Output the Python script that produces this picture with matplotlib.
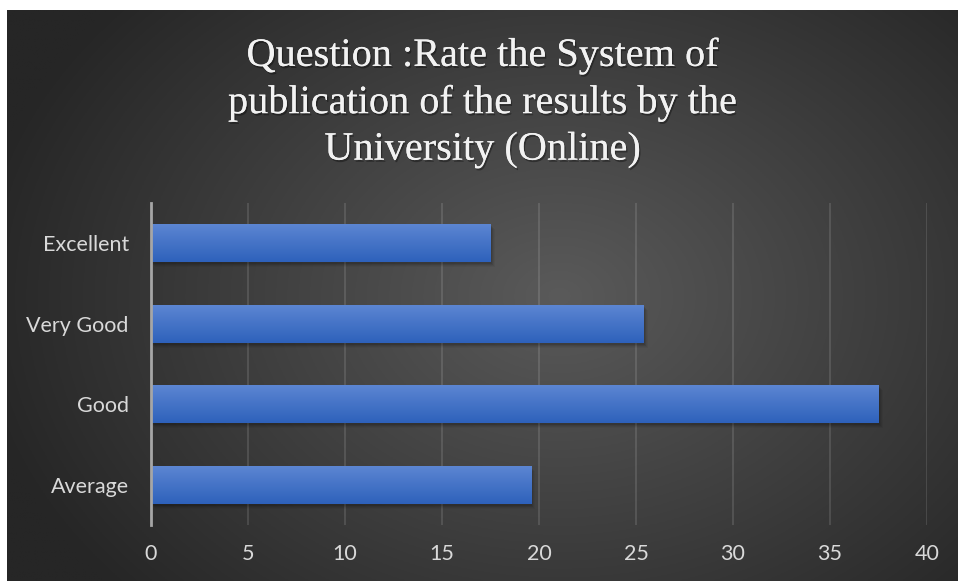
import numpy as np
import matplotlib
matplotlib.use("Agg")
import matplotlib.pyplot as plt
import matplotlib.patheffects as pe
from matplotlib.transforms import offset_copy

categories = ["Average", "Good", "Very Good", "Excellent"]
values = [19.6, 37.5, 25.4, 17.5]
xticks = [0, 5, 10, 15, 20, 25, 30, 35, 40]
title = "Question :Rate the System of\npublication of the results by the\nUniversity (Online)"

W, H = 958, 581
fig = plt.figure(figsize=(W / 100, H / 100), dpi=100)
fig.patch.set_facecolor("white")

# background with radial gradient
bg = fig.add_axes([7 / W, 0, (W - 7) / W, (H - 10) / H])
bg.set_axis_off()
ny, nx = 300, 500
yy, xx = np.mgrid[0:ny, 0:nx]
cx, cy = nx * 0.58, ny * 0.5
r = np.sqrt(((xx - cx) / nx) ** 2 + ((yy - cy) / ny * 0.8) ** 2)
r = np.clip(r / 0.62, 0, 1)
c0 = np.array([0x5a, 0x5a, 0x5a]) / 255
c1 = np.array([0x26, 0x26, 0x26]) / 255
img = c0[None, None, :] * (1 - r[..., None]) + c1[None, None, :] * r[..., None]
bg.imshow(img, aspect="auto", extent=[0, 1, 0, 1], origin="upper")
bg.set_xlim(0, 1)
bg.set_ylim(0, 1)

ax = fig.add_axes([151 / W, 1 - 525 / H, (927 - 151) / W, (525 - 203) / H])
ax.set_facecolor("none")
ypos = np.arange(len(categories))
height = 0.476

# shadows
for k, a in enumerate([0.10, 0.08, 0.06, 0.04]):
    off = offset_copy(ax.transData, fig=fig, x=1 + k, y=-(2 + k), units="dots")
    ax.barh(ypos, values, height=height, color="black", alpha=a, transform=off, zorder=2, linewidth=0)

bars = ax.barh(ypos, values, height=height, color="#4472c4", zorder=3, linewidth=0)
grad = np.linspace(0, 1, 64)[:, None]
top = np.array([0x5d, 0x87, 0xd3]) / 255
bot = np.array([0x2e, 0x61, 0xbb]) / 255
gimg = top[None, None, :] * (1 - grad[..., None]) + bot[None, None, :] * grad[..., None]
for b in bars:
    x0, y0 = b.get_x(), b.get_y()
    w, h = b.get_width(), b.get_height()
    im = ax.imshow(gimg, extent=[x0, x0 + w, y0, y0 + h], aspect="auto", origin="upper", zorder=4)
    im.set_clip_path(b)

ax.set_xlim(0, 40)
ax.set_ylim(-0.5, len(categories) - 0.5)
ax.set_xticks(xticks)
ax.set_xticklabels([str(t) for t in xticks])
ax.set_yticks(ypos)
ax.set_yticklabels(categories)
ax.tick_params(axis="both", length=0, colors="#d9d9d9", labelsize=15.5)
ax.tick_params(axis="x", pad=14)
ax.tick_params(axis="y", pad=16)
for lab in ax.get_xticklabels() + ax.get_yticklabels():
    lab.set_fontfamily("Lato")
ax.xaxis.grid(True, color="#ffffff", alpha=0.13, linewidth=1.3, zorder=1)
ax.set_axisbelow(True)
for s in ["top", "right", "bottom"]:
    ax.spines[s].set_visible(False)
ax.spines["left"].set_color("#a6a6a6")
ax.spines["left"].set_linewidth(2)
ax.spines["left"].set_zorder(5)

fig.text(0.5 * (7 + W) / W, 1 - 103 / H, title, ha="center", va="center",
         fontsize=29, family="Liberation Serif", color="#f2f2f2", linespacing=1.34,
         path_effects=[pe.withSimplePatchShadow(offset=(1, -1.5), shadow_rgbFace="black", alpha=0.35), pe.Normal()])

fig.savefig("out.png", dpi=100, facecolor=fig.get_facecolor())
